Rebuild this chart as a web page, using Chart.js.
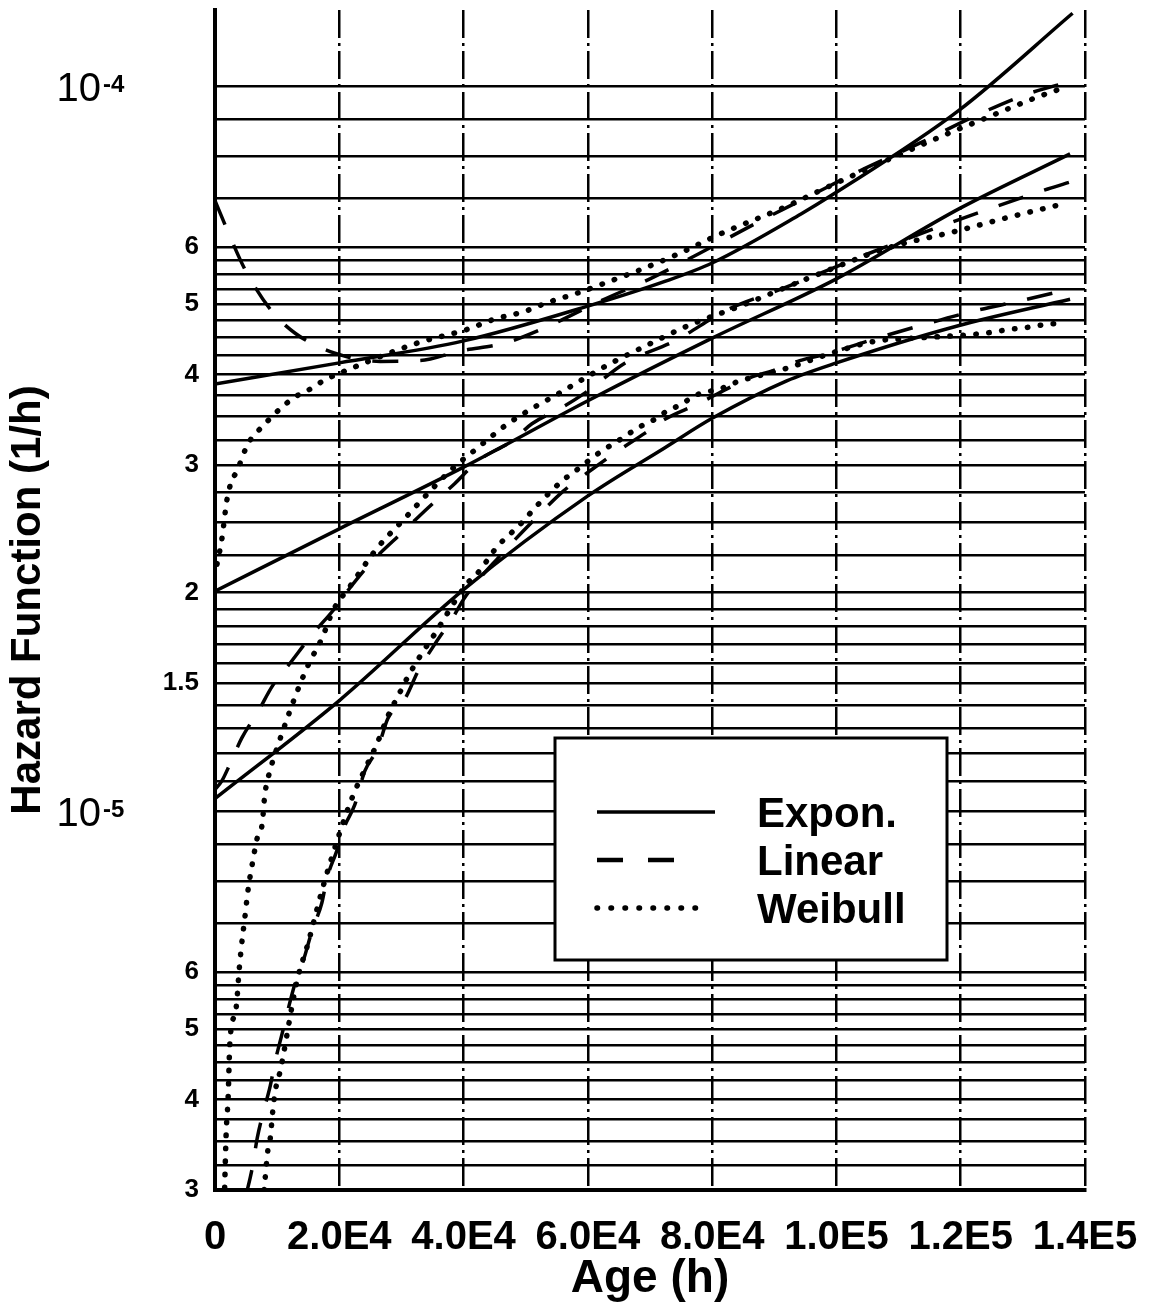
<!DOCTYPE html>
<html>
<head>
  <meta charset="utf-8">
  <title>Hazard Function vs Age</title>
  <script src="https://cdn.jsdelivr.net/npm/chart.js@4/dist/chart.umd.min.js"></script>
  <style>
    html, body {
      margin: 0; padding: 0;
      background-color: #fff;
    }
    #chartContainer {
      width: 1149px; height: 1309px;
      position: relative;
    }
  </style>
</head>
<body>
  <div id="chartContainer">
    <canvas id="hazardChart"></canvas>
  </div>

  <script>
    // hazard values below in units of 1e-5 (1/h)
    const UNIT = 1e-5;

    // top group
    const exponAAge = [0, 20000, 40000, 60000, 72500, 80000, 94300, 99600, 119600, 138000];
    const exponA    = [3.88, 4.15, 4.45, 4.97, 5.38, 5.70, 6.66, 7.10, 9.24, 12.6];

    const linearAAge = [0, 1900, 4800, 8900, 12900, 19300, 26600, 33000, 39400, 46700, 53100,
                        62000, 70000, 78000, 87700, 95700, 103800, 113400, 122300, 130300, 137900];
    const linearA    = [6.95, 6.35, 5.59, 4.92, 4.56, 4.28, 4.17, 4.18, 4.31, 4.42, 4.64,
                        5.05, 5.42, 5.88, 6.51, 7.05, 7.64, 8.34, 9.09, 9.72, 10.16];

    const weibullAAge = [320, 1100, 1900, 2600, 3500, 5300, 6900, 8900, 11000, 13200, 15600, 17400,
                         21700, 32200, 40700, 45000, 49600, 53600, 58000, 62300, 68700, 74800,
                         81300, 91400, 100000, 117000, 123600, 128000, 132000, 136500];
    const weibullA    = [2.19, 2.37, 2.68, 2.84, 2.94, 3.21, 3.34, 3.48, 3.62, 3.74, 3.83, 3.92,
                         4.07, 4.41, 4.62, 4.77, 4.88, 5.03, 5.17, 5.33, 5.59, 5.88,
                         6.25, 6.79, 7.35, 8.53, 9.00, 9.33, 9.63, 9.94];

    // middle group
    const exponBAge = [0, 20000, 40000, 60000, 80000, 100000, 120000, 137600];
    const exponB    = [2.01, 2.45, 2.98, 3.68, 4.49, 5.42, 6.79, 8.06];

    const linearBAge = [0, 1100, 2400, 4300, 6900, 9300, 12100, 15600, 19000, 21700, 25300, 30300,
                        34300, 38600, 42300, 47800, 51000, 55800, 59500, 66000, 74000, 82400,
                        91200, 107500, 125500, 134000, 137600];
    const linearB    = [1.07, 1.10, 1.16, 1.26, 1.37, 1.49, 1.60, 1.75, 1.89, 2.03, 2.21, 2.43,
                        2.62, 2.83, 3.04, 3.24, 3.42, 3.60, 3.77, 4.15, 4.45, 4.91,
                        5.25, 5.98, 6.81, 7.21, 7.37];

    const weibullBAge = [1500, 1800, 2100, 2400, 3400, 3900, 4300, 4800, 5300, 6000, 6800, 7600,
                         8000, 8900, 10100, 11600, 13200, 15000, 17200, 19000, 21700, 26200,
                         30100, 38100, 42300, 46700, 51000, 55200, 59200, 63600, 70000, 76100,
                         84500, 95700, 108300, 119400, 127400, 136300];
    const weibullB    = [0.29, 0.36, 0.40, 0.48, 0.535, 0.605, 0.656, 0.712, 0.776, 0.845, 0.918, 0.96,
                         1.05, 1.14, 1.23, 1.34, 1.46, 1.59, 1.73, 1.89, 2.04, 2.31,
                         2.51, 2.96, 3.17, 3.40, 3.59, 3.76, 3.94, 4.14, 4.41, 4.67,
                         4.97, 5.44, 5.98, 6.31, 6.58, 6.87];

    // lower group
    const exponCAge = [0, 20000, 40000, 60000, 72400, 80000, 92000, 100000, 119600, 137600];
    const exponC    = [1.04, 1.42, 2.02, 2.72, 3.17, 3.48, 3.92, 4.15, 4.67, 5.08];

    const linearCAge = [5000, 6000, 6800, 7700, 8900, 9700, 10800, 11700, 12900, 14200, 15600, 17200,
                        18000, 19600, 20900, 22500, 24100, 26200, 27800, 30600, 32700, 35400,
                        38300, 40200, 45900, 52300, 56000, 60700, 64900, 69200, 72400, 77600,
                        80800, 86100, 89800, 94100, 98500, 105100, 113400, 122000, 130300, 137600];
    const linearC    = [0.295, 0.322, 0.354, 0.382, 0.418, 0.452, 0.493, 0.530, 0.579, 0.621, 0.683, 0.747,
                        0.806, 0.881, 0.954, 1.02, 1.135, 1.22, 1.34, 1.43, 1.56, 1.70,
                        1.85, 1.97, 2.25, 2.57, 2.76, 2.96, 3.14, 3.32, 3.47, 3.64,
                        3.76, 3.96, 4.05, 4.18, 4.27, 4.45, 4.67, 4.89, 5.07, 5.25];

    const weibullCAge = [7900, 8500, 8900, 9300, 9700, 10500, 10900, 13200, 15000, 17200, 19800, 22200,
                         24100, 26100, 27800, 29800, 31100, 33500, 34900, 40600, 42300, 45500,
                         47500, 49600, 51500, 55800, 57900, 62300, 64400, 66500, 68700, 70800,
                         72700, 75100, 77200, 81600, 83400, 92000, 100300, 106500, 110700, 123900,
                         126000, 128300, 130300, 132400, 134700, 136800];
    const weibullC    = [0.30, 0.34, 0.354, 0.386, 0.411, 0.438, 0.456, 0.583, 0.658, 0.776, 0.918, 1.05,
                         1.14, 1.24, 1.35, 1.46, 1.535, 1.66, 1.73, 2.06, 2.13, 2.32,
                         2.41, 2.51, 2.62, 2.85, 2.94, 3.14, 3.22, 3.31, 3.40, 3.47,
                         3.56, 3.64, 3.74, 3.83, 3.89, 4.08, 4.31, 4.45, 4.48, 4.56,
                         4.59, 4.62, 4.64, 4.67, 4.70, 4.70];

    // axes
    const xTickValues = [0, 20000, 40000, 60000, 80000, 100000, 120000, 140000];
    const xTickLabels = ['0', '2.0E4', '4.0E4', '6.0E4', '8.0E4', '1.0E5', '1.2E5', '1.4E5'];

    const yGridMantissas = [1, 1.1, 1.2, 1.3, 1.4, 1.5, 1.6, 1.7, 1.8, 1.9,
                            2, 2.25, 2.5, 2.75, 3, 3.25, 3.5, 3.75, 4, 4.25, 4.5, 4.75,
                            5, 5.25, 5.5, 5.75, 6, 7, 8, 9];
    const yGridDecades = [1e-6, 1e-5, 1e-4];
    const yMin = 3e-6, yMax = 1.273e-4;

    const yLabelValues = [3e-6, 4e-6, 5e-6, 6e-6, 1.5e-5, 2e-5, 3e-5, 4e-5, 5e-5, 6e-5];
    const yLabelTexts  = ['3', '4', '5', '6', '1.5', '2', '3', '4', '5', '6'];
    const yDecadeValues = [1e-5, 1e-4];
    const yDecadeExps   = ['-5', '-4'];

    const legendNames = ['Expon.', 'Linear', 'Weibull'];

    const FONT = '"Liberation Sans", Arial, Helvetica, sans-serif';

    const yGridValues = [];
    yGridDecades.forEach(d => {
      yGridMantissas.forEach(m => {
        const v = m * d;
        if (v >= yMin * 0.9999 && v <= 1e-4 * 1.0001) yGridValues.push(v);
      });
    });

    function yLabel(value) {
      const i = yLabelValues.findIndex(v => Math.abs(value / v - 1) < 1e-6);
      return i >= 0 ? yLabelTexts[i] : '';
    }

    function series(ages, hazards) {
      return ages.map((a, i) => ({ x: a, y: hazards[i] * UNIT }));
    }

    const lineStyles = {
      expon:   { borderWidth: 3.5, borderDash: [], borderCapStyle: 'butt' },
      linear:  { borderWidth: 3.5, borderDash: [26, 22], borderCapStyle: 'butt' },
      weibull: { borderWidth: 5.5, borderDash: [0.5, 12.5], borderCapStyle: 'round' }
    };

    const curves = [
      ['expon', exponAAge, exponA], ['linear', linearAAge, linearA], ['weibull', weibullAAge, weibullA],
      ['expon', exponBAge, exponB], ['linear', linearBAge, linearB], ['weibull', weibullBAge, weibullB],
      ['expon', exponCAge, exponC], ['linear', linearCAge, linearC], ['weibull', weibullCAge, weibullC]
    ];

    // power-of-ten labels on the y axis (10 with a raised exponent)
    const decadeLabels = {
      id: 'decadeLabels',
      afterDraw(chart) {
        const { ctx } = chart;
        const ys = chart.scales.y;
        ctx.save();
        ctx.fillStyle = '#000';
        ctx.textBaseline = 'alphabetic';
        yDecadeValues.forEach((v, i) => {
          const py = ys.getPixelForValue(v);
          ctx.font = '40px ' + FONT;
          ctx.textAlign = 'right';
          ctx.fillText('10', 101, py + 15);
          ctx.font = 'bold 24px ' + FONT;
          ctx.textAlign = 'left';
          ctx.fillText(yDecadeExps[i], 103, py + 6);
        });
        ctx.restore();
      }
    };

    // boxed legend sitting inside the plot
    const boxLegend = {
      id: 'boxLegend',
      afterDraw(chart, args, opts) {
        const { ctx } = chart;
        const b = opts.box;
        ctx.save();
        ctx.fillStyle = '#fff';
        ctx.fillRect(b.left, b.top, b.right - b.left, b.bottom - b.top);
        ctx.strokeStyle = '#000';
        ctx.lineWidth = 3;
        ctx.strokeRect(b.left, b.top, b.right - b.left, b.bottom - b.top);

        ['expon', 'linear', 'weibull'].forEach((key, i) => {
          const st = lineStyles[key];
          const y = opts.rows[i];
          ctx.beginPath();
          ctx.lineWidth = key === 'linear' ? 4.5 : st.borderWidth;
          ctx.lineCap = st.borderCapStyle;
          ctx.setLineDash(key === 'linear' ? [26, 25] : key === 'weibull' ? [0.5, 13.5] : []);
          ctx.moveTo(opts.sampleStart, y);
          ctx.lineTo(opts.sampleEnd[i], y);
          ctx.stroke();

          ctx.setLineDash([]);
          ctx.fillStyle = '#000';
          ctx.font = 'bold 42px ' + FONT;
          ctx.textAlign = 'left';
          ctx.textBaseline = 'alphabetic';
          ctx.fillText(legendNames[i], opts.textX, y + 15);
        });
        ctx.restore();
      }
    };

    function initializeChart() {
      const ctx = document.getElementById('hazardChart').getContext('2d');
      new Chart(ctx, {
        type: 'line',
        data: {
          datasets: curves.map(([key, ages, vals], i) => ({
            label: legendNames[['expon', 'linear', 'weibull'].indexOf(key)] + ' ' + (i + 1),
            data: series(ages, vals),
            borderColor: '#000',
            backgroundColor: '#000',
            borderWidth: lineStyles[key].borderWidth,
            borderDash: lineStyles[key].borderDash,
            borderCapStyle: lineStyles[key].borderCapStyle,
            pointRadius: 0,
            fill: false,
            cubicInterpolationMode: 'monotone'
          }))
        },
        options: {
          responsive: true,
          maintainAspectRatio: false,
          animation: false,
          layout: { padding: { top: 10, right: 64, bottom: 0, left: 0 } },
          scales: {
            x: {
              type: 'linear',
              min: 0, max: 140000,
              afterFit: (s) => {
                s.height = 119;
                s.paddingLeft = 0; s.paddingRight = 0;
              },
              ticks: {
                stepSize: 20000,
                autoSkip: false,
                maxRotation: 0,
                padding: 24,
                color: '#000',
                font: { family: FONT, size: 40, weight: 'bold' },
                callback: (value) => {
                  const i = xTickValues.indexOf(value);
                  return i >= 0 ? xTickLabels[i] : '';
                }
              },
              grid: { color: '#000', lineWidth: 2.5, drawTicks: false },
              border: { display: true, color: '#000', width: 4, dash: [28, 5, 3, 5] },
              title: {
                display: true,
                text: 'Age (h)',
                color: '#000',
                font: { family: FONT, size: 46, weight: 'bold', lineHeight: 1.2 },
                padding: { top: 0, bottom: 2 }
              }
            },
            y: {
              type: 'logarithmic',
              min: yMin, max: yMax,
              afterFit: (s) => {
                s.width = 215;
                s.paddingTop = 0; s.paddingBottom = 0;
              },
              afterBuildTicks: (s) => { s.ticks = yGridValues.map(v => ({ value: v })); },
              ticks: {
                autoSkip: false,
                padding: 16,
                color: '#000',
                font: (c) => ({
                  family: FONT,
                  size: (c.tick && yLabel(c.tick.value)) ? 26 : 1,
                  weight: 'bold'
                }),
                callback: (value) => yLabel(value)
              },
              grid: { color: '#000', lineWidth: 2.5, drawTicks: false },
              border: { display: true, color: '#000', width: 4 },
              title: {
                display: true,
                text: 'Hazard Function (1/h)',
                color: '#000',
                font: { family: FONT, size: 42, weight: 'bold', lineHeight: 1.2 },
                padding: { top: 3, bottom: 0 }
              }
            }
          },
          plugins: {
            legend: { display: false },
            tooltip: { enabled: false },
            boxLegend: {
              box: { left: 555, top: 738, right: 947, bottom: 960 },
              rows: [812, 860, 908],
              sampleStart: 597,
              sampleEnd: [715, 676, 706],
              textX: 757
            }
          }
        },
        plugins: [decadeLabels, boxLegend]
      });
    }

    window.addEventListener('load', initializeChart);
  </script>
</body>
</html>
